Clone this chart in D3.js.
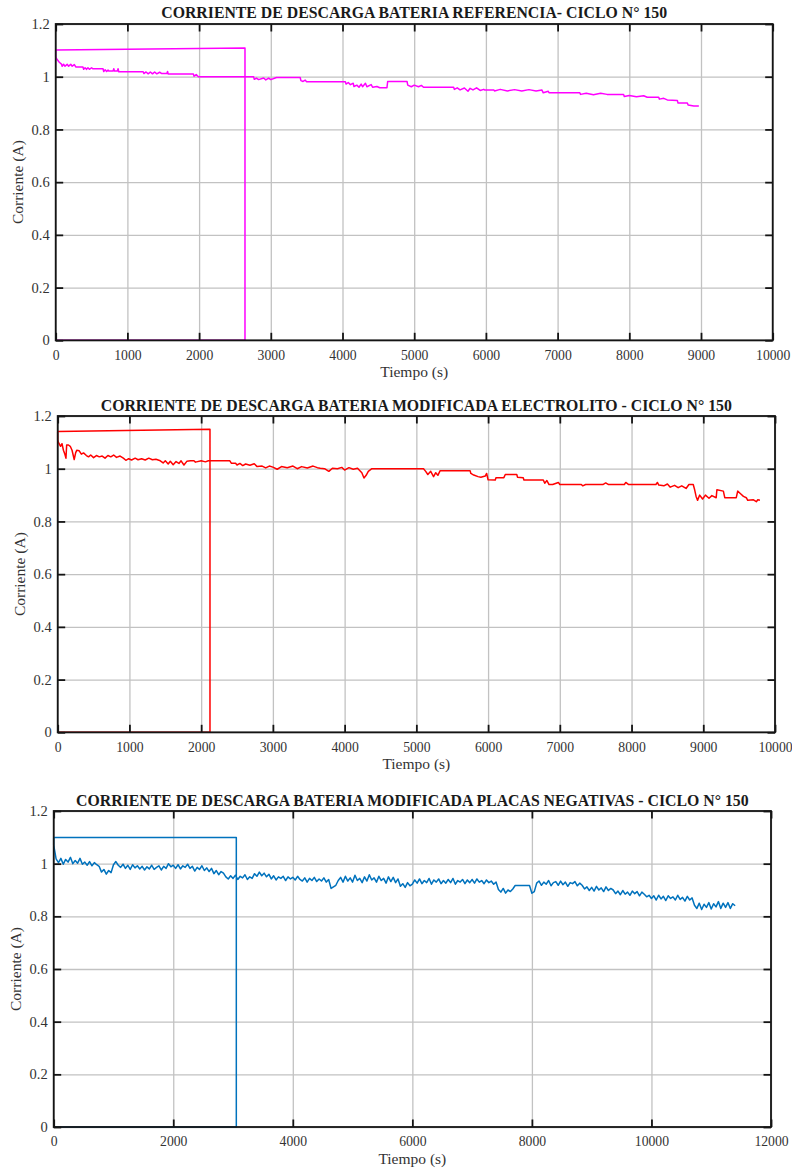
<!DOCTYPE html>
<html>
<head>
<meta charset="utf-8">
<script src="https://cdn.jsdelivr.net/npm/d3@7"></script>
<style>
  html, body { margin: 0; padding: 0; background: #fff; }
  svg { display: block; }
  svg text { font-family: "Liberation Serif", "Times New Roman", Times, serif !important; }
</style>
</head>
<body>
<div id="chart"></div>
<script>
// ---------------- DATA ----------------
const titles = [
  "CORRIENTE DE DESCARGA BATERIA REFERENCIA- CICLO N° 150",
  "CORRIENTE DE DESCARGA BATERIA MODIFICADA ELECTROLITO - CICLO N° 150",
  "CORRIENTE DE DESCARGA BATERIA MODIFICADA PLACAS NEGATIVAS - CICLO N° 150"
];
const xLabel = "Tiempo (s)";
const yLabel = "Corriente (A)";
const xTicks10k = [0, 1000, 2000, 3000, 4000, 5000, 6000, 7000, 8000, 9000, 10000];
const xTicks12k = [0, 2000, 4000, 6000, 8000, 10000, 12000];
const yTicks = [0, 0.2, 0.4, 0.6, 0.8, 1, 1.2];
const seriesColors = ["#ff00ff", "#ff0000", "#0072bd"];

// Reference battery: [time s, current A]
const refPoints = [
  [0,0],[2640,0],[2640,1.109],[0,1.101],[0,1.075],
  [20,1.065],[50,1.055],[80,1.048],[90,1.040],[110,1.047],[130,1.04],[160,1.047],[180,1.04],[210,1.047],[230,1.04],
  [260,1.046],[280,1.037],[380,1.037],[390,1.028],[410,1.034],[430,1.028],[450,1.034],[470,1.028],[500,1.034],
  [520,1.03],[660,1.03],[670,1.02],[690,1.026],[710,1.02],[730,1.025],[740,1.022],[800,1.022],[810,1.03],
  [820,1.022],[860,1.022],[870,1.03],[880,1.019],[1220,1.019],[1230,1.012],[1260,1.018],[1290,1.011],
  [1320,1.018],[1350,1.011],[1380,1.018],[1410,1.011],[1450,1.017],[1480,1.012],[1550,1.012],[1560,1.02],
  [1570,1.01],[1920,1.01],[1930,1.002],[1960,1.008],[1990,1.0],[2760,1.0],[2770,0.99],[2800,0.995],
  [2830,0.989],[2900,0.995],[2930,0.988],[2970,0.995],[3000,0.989],[3060,0.995],[3080,0.997],[3410,0.997],
  [3420,0.985],[3450,0.982],[3480,0.987],[3500,0.981],[4040,0.981],[4050,0.972],[4080,0.978],[4110,0.97],
  [4150,0.975],[4160,0.963],[4200,0.968],[4230,0.96],[4260,0.972],[4280,0.962],[4320,0.975],[4340,0.962],
  [4400,0.97],[4420,0.96],[4480,0.963],[4520,0.958],[4620,0.958],[4630,0.982],[4900,0.982],[4910,0.968],
  [4960,0.962],[5000,0.968],[5060,0.962],[5100,0.967],[5130,0.96],[5550,0.96],[5560,0.952],[5600,0.958],
  [5640,0.95],[5700,0.957],[5750,0.945],[5780,0.956],[5820,0.95],[5870,0.958],[5920,0.948],[5970,0.952],
  [5980,0.95],[6110,0.95],[6120,0.946],[6200,0.952],[6300,0.946],[6400,0.951],[6500,0.946],[6600,0.951],
  [6700,0.946],[6780,0.95],[6800,0.939],[6870,0.945],[6880,0.939],[7310,0.939],[7320,0.933],[7400,0.937],
  [7500,0.932],[7600,0.937],[7690,0.933],[7920,0.933],[7930,0.925],[8000,0.929],[8100,0.924],[8200,0.928],
  [8250,0.922],[8410,0.922],[8420,0.915],[8480,0.918],[8530,0.912],[8670,0.91],[8680,0.9],[8810,0.9],
  [8820,0.893],[8900,0.889],[8970,0.889]
];

// Modified electrolyte battery: [time s, current A]
const elecPoints = [
  [0,0],[2123,0],[2123,1.150],[0,1.141],[0,1.109],
  [10,1.10],[40,1.085],[60,1.095],[80,1.07],[100,1.055],[115,1.04],[125,1.09],[150,1.09],[175,1.085],
  [200,1.07],[230,1.035],[250,1.06],[265,1.07],[300,1.068],[330,1.055],[360,1.06],[400,1.05],[430,1.045],
  [460,1.052],[500,1.042],[540,1.05],[580,1.045],[620,1.048],[660,1.04],[700,1.05],[740,1.045],[780,1.052],
  [820,1.043],[870,1.048],[915,1.04],[950,1.032],[990,1.038],[1030,1.033],[1080,1.04],[1120,1.034],
  [1170,1.038],[1220,1.033],[1270,1.04],[1320,1.034],[1370,1.036],[1430,1.03],[1470,1.022],[1500,1.03],
  [1540,1.018],[1570,1.028],[1610,1.015],[1650,1.027],[1690,1.02],[1720,1.03],[1760,1.014],[1800,1.028],
  [1850,1.03],[1900,1.03],[1920,1.025],[2000,1.03],[2060,1.026],[2100,1.03],[2400,1.03],[2420,1.021],
  [2480,1.021],[2500,1.014],[2540,1.02],[2580,1.012],[2620,1.018],[2680,1.013],[2740,1.019],[2780,1.008],
  [2850,1.01],[2900,1.003],[2950,1.01],[3000,1.006],[3060,0.998],[3120,1.008],[3200,1.004],[3280,1.01],
  [3340,1.0],[3400,1.008],[3480,1.003],[3560,1.01],[3620,1.004],[3660,1.002],[3720,1.0],[3780,0.99],
  [3830,1.002],[3900,1.0],[3960,1.005],[4000,0.995],[4060,1.004],[4120,0.998],[4180,1.002],[4240,0.985],
  [4270,0.965],[4300,0.975],[4330,0.99],[4380,1.0],[4800,1.0],[5100,1.0],[5130,0.99],[5160,0.978],
  [5200,0.99],[5240,0.97],[5270,0.985],[5300,0.975],[5330,0.992],[5750,0.992],[5760,0.982],[5800,0.976],
  [5860,0.97],[5900,0.968],[5960,0.972],[5980,0.982],[6000,0.958],[6100,0.957],[6110,0.966],[6220,0.966],
  [6240,0.978],[6400,0.978],[6410,0.968],[6490,0.966],[6500,0.957],[6770,0.957],[6790,0.945],[6820,0.955],
  [6850,0.94],[6900,0.94],[6980,0.948],[7000,0.94],[7300,0.94],[7320,0.935],[7360,0.94],[7600,0.94],
  [7640,0.946],[7680,0.94],[7900,0.94],[7920,0.948],[7960,0.94],[8340,0.94],[8360,0.948],[8380,0.938],
  [8450,0.935],[8500,0.942],[8540,0.93],[8600,0.937],[8650,0.928],[8700,0.935],[8760,0.925],[8800,0.94],
  [8860,0.94],[8880,0.92],[8900,0.895],[8920,0.88],[8950,0.9],[8990,0.885],[9030,0.9],[9080,0.888],
  [9120,0.898],[9180,0.89],[9190,0.92],[9280,0.915],[9300,0.89],[9460,0.89],[9480,0.915],[9520,0.905],
  [9560,0.895],[9600,0.89],[9620,0.88],[9700,0.882],[9740,0.875],[9760,0.882],[9790,0.88]
];

// Modified negative plates battery: outline [time s, current A] + sampled trace (one value per 40 s)
const negEdge = [[0,0],[3055,0],[3055,1.099],[0,1.099],[0,1.071]];
const negSampleStep = 40;
const negCurrent = [
  // 0 - 960 s
  1.070,1.018,1.004,1.020,0.998,1.016,1.006,1.024,1.000,1.012,1.002,1.020,0.998,
  1.006,0.994,1.008,0.992,1.004,0.996,0.990,0.968,0.978,0.960,0.974,0.966,
  // 1000 - 1960 s
  0.996,1.008,0.994,0.986,0.998,0.982,0.994,0.978,0.996,0.984,0.992,0.980,
  0.990,0.976,0.988,0.980,0.994,0.978,0.986,0.992,0.976,0.990,0.982,1.000,0.988,
  // 2000 - 2960 s
  0.994,0.982,0.996,0.980,0.992,0.986,0.998,0.982,0.990,0.972,0.986,0.978,0.992,
  0.974,0.984,0.970,0.982,0.962,0.974,0.958,0.970,0.964,0.950,0.942,0.954,
  // 3000 - 3960 s
  0.944,0.956,0.940,0.952,0.946,0.958,0.940,0.950,0.944,0.962,0.952,0.968,0.954,
  0.964,0.950,0.960,0.942,0.954,0.938,0.950,0.944,0.952,0.936,0.950,0.942,
  // 4000 - 4960 s
  0.948,0.938,0.952,0.940,0.934,0.946,0.930,0.944,0.936,0.948,0.932,0.942,0.934,
  0.946,0.930,0.940,0.906,0.912,0.918,0.936,0.948,0.930,0.952,0.934,0.946,
  // 5000 - 5960 s
  0.930,0.956,0.936,0.944,0.928,0.950,0.934,0.958,0.938,0.946,0.930,0.952,0.936,
  0.944,0.926,0.950,0.932,0.948,0.928,0.942,0.914,0.924,0.910,0.928,0.916,
  // 6000 - 6960 s
  0.922,0.938,0.926,0.942,0.924,0.936,0.928,0.944,0.922,0.938,0.930,0.942,0.924,
  0.936,0.926,0.940,0.928,0.944,0.922,0.936,0.930,0.940,0.924,0.938,0.928,
  // 7000 - 7960 s
  0.940,0.926,0.942,0.930,0.936,0.924,0.938,0.928,0.934,0.922,0.930,0.902,0.892,
  0.906,0.888,0.900,0.894,0.904,0.917,0.917,0.917,0.917,0.917,0.917,0.917,
  // 8000 - 8960 s
  0.888,0.894,0.926,0.934,0.918,0.930,0.922,0.936,0.916,0.928,0.932,0.918,0.934,
  0.920,0.930,0.914,0.928,0.924,0.932,0.916,0.926,0.918,0.904,0.912,0.898,
  // 9000 - 9960 s
  0.910,0.896,0.914,0.900,0.908,0.894,0.912,0.898,0.906,0.900,0.886,0.896,0.882,
  0.898,0.884,0.892,0.880,0.896,0.886,0.894,0.878,0.892,0.884,0.874,0.880,
  // 10000 - 10960 s
  0.868,0.878,0.862,0.880,0.866,0.876,0.860,0.878,0.868,0.874,0.862,0.880,0.864,
  0.872,0.858,0.876,0.862,0.870,0.842,0.830,0.850,0.826,0.846,0.834,0.852,
  // 11000 - 11400 s
  0.828,0.848,0.836,0.856,0.830,0.850,0.834,0.852,0.830,0.848,0.840
];
const negPoints = negEdge.concat(negCurrent.map((v, i) => [i * negSampleStep, v]));

// ---------------- LAYOUT ----------------
const W = 792, H = 1169;
const panels = [
  { box: {l: 55.7, t: 24, r: 772.7, b: 340.3}, xMax: 10000, xTicks: xTicks10k, data: refPoints,  color: seriesColors[0], title: titles[0], titleY: 18.3 },
  { box: {l: 57.7, t: 416, r: 775, b: 732.3},  xMax: 10000, xTicks: xTicks10k, data: elecPoints, color: seriesColors[1], title: titles[1], titleY: 410.5 },
  { box: {l: 53.7, t: 811, r: 771, b: 1127},   xMax: 12000, xTicks: xTicks12k, data: negPoints,  color: seriesColors[2], title: titles[2], titleY: 805.5 }
];

const svg = d3.select("#chart").append("svg")
  .attr("width", W).attr("height", H).attr("viewBox", `0 0 ${W} ${H}`);
svg.append("rect").attr("width", W).attr("height", H).attr("fill", "#fff");

const axisColor = "#141414";
const tickTextColor = "#333";
const gridColor = "#c2c2c2";
const tickLen = 7.5;
const tickSize = 13.7;
const labelSize = 15.5;

panels.forEach(p => {
  const {l, t, r, b} = p.box;
  const x = d3.scaleLinear().domain([0, p.xMax]).range([l, r]);
  const y = d3.scaleLinear().domain([0, 1.2]).range([b, t]);
  const g = svg.append("g");

  // grid
  g.append("g").attr("transform", `translate(0,${b})`)
    .call(d3.axisBottom(x).tickValues(p.xTicks).tickSize(-(b - t)).tickFormat(""))
    .call(s => s.select(".domain").remove())
    .call(s => s.selectAll("line").attr("stroke", gridColor).attr("stroke-width", 1.3));
  g.append("g").attr("transform", `translate(${l},0)`)
    .call(d3.axisLeft(y).tickValues(yTicks).tickSize(-(r - l)).tickFormat(""))
    .call(s => s.select(".domain").remove())
    .call(s => s.selectAll("line").attr("stroke", gridColor).attr("stroke-width", 1.3));

  // data line
  const line = d3.line().x(d => x(d[0])).y(d => y(d[1]));
  g.append("path").datum(p.data)
    .attr("d", line)
    .attr("fill", "none")
    .attr("stroke", p.color)
    .attr("stroke-width", 1.5)
    .attr("stroke-linejoin", "round");

  // inward ticks
  const styleTicks = s => {
    s.select(".domain").remove();
    s.selectAll("line").attr("stroke", axisColor).attr("stroke-width", 1.8);
  };
  const bottomAxis = g.append("g").attr("transform", `translate(0,${b})`)
    .call(d3.axisBottom(x).tickValues(p.xTicks).tickSize(-tickLen).tickPadding(9.5).tickFormat(d3.format("d")));
  styleTicks(bottomAxis);
  bottomAxis.selectAll("text").attr("fill", tickTextColor).attr("font-size", tickSize);

  g.append("g").attr("transform", `translate(0,${t})`)
    .call(d3.axisTop(x).tickValues(p.xTicks).tickSize(-tickLen).tickFormat(""))
    .call(styleTicks);

  const leftAxis = g.append("g").attr("transform", `translate(${l},0)`)
    .call(d3.axisLeft(y).tickValues(yTicks).tickSize(-tickLen).tickPadding(6).tickFormat(d => String(d)));
  styleTicks(leftAxis);
  leftAxis.selectAll("text").attr("fill", tickTextColor).attr("font-size", tickSize + 0.8);

  g.append("g").attr("transform", `translate(${r},0)`)
    .call(d3.axisRight(y).tickValues(yTicks).tickSize(-tickLen).tickFormat(""))
    .call(styleTicks);

  // box
  g.append("rect")
    .attr("x", l).attr("y", t).attr("width", r - l).attr("height", b - t)
    .attr("fill", "none").attr("stroke", axisColor).attr("stroke-width", 1.8);

  // title
  svg.append("text")
    .attr("x", (l + r) / 2).attr("y", p.titleY)
    .attr("text-anchor", "middle")
    .attr("font-size", 15.8).attr("font-weight", "bold")
    .attr("fill", "#1a1a1a")
    .text(p.title);

  // x label
  svg.append("text")
    .attr("x", (l + r) / 2).attr("y", b + 37)
    .attr("text-anchor", "middle")
    .attr("font-size", labelSize).attr("fill", tickTextColor)
    .text(xLabel);

  // y label
  svg.append("text")
    .attr("transform", `translate(${l - 32.5},${(t + b) / 2}) rotate(-90)`)
    .attr("text-anchor", "middle")
    .attr("font-size", labelSize).attr("fill", tickTextColor)
    .text(yLabel);
});
</script>
</body>
</html>
